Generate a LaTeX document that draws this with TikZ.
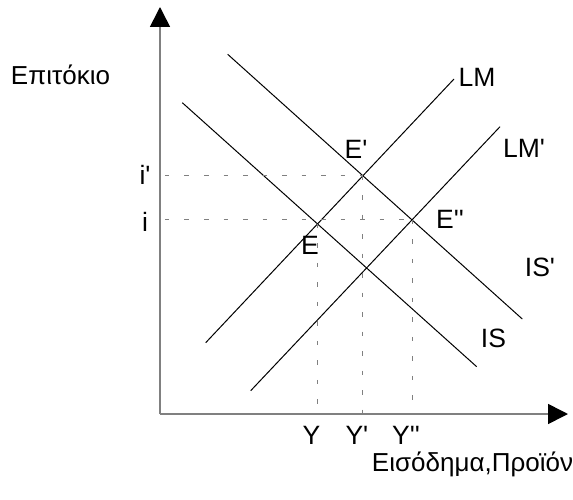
\documentclass[tikz,border=0pt]{standalone}
\usepackage{fontspec}
\setmainfont{Liberation Sans}
\usetikzlibrary{arrows.meta,calc,positioning}
\newcommand{\pr}{\textquotesingle}

\begin{document}
\begin{tikzpicture}[>={Triangle[length=20pt,width=20pt,black]}, x=1pt, y=1pt,
  every node/.style={font=\fontsize{26.5}{31}\selectfont, inner sep=0pt},
  axislabel/.style={font=\fontsize{26}{30}\selectfont},
  curve/.style={line width=1pt},
  guide/.style={draw=gray, line width=1pt, dash pattern=on 4.5pt off 15pt},
  axis/.style={draw=gray, line width=1.6pt}]
  \useasboundingbox (-160,-85) rectangle (413,414);
  % axes
  \coordinate (o) at (0,0);
  \coordinate (ytop) at (0,407);
  \coordinate (xend) at (408,0);
  \draw[axis,->] (o) -- (ytop);
  \draw[axis,->] (o) -- (xend);
  % LM, LM', IS, IS'
  \coordinate (lm1) at (45.7,71.3);
  \coordinate (lm2) at (294,335);
  \coordinate (lmp1) at (90.7,23.3);
  \coordinate (lmp2) at (340,287.3);
  \coordinate (is1) at (22.3,311.3);
  \coordinate (is2) at (316.7,47.3);
  \coordinate (isp1) at (67.7,359.7);
  \coordinate (isp2) at (362.3,95);
  \draw[curve] (lm1) -- (lm2);
  \draw[curve] (lmp1) -- (lmp2);
  \draw[curve] (is1) -- (is2);
  \draw[curve] (isp1) -- (isp2);
  \coordinate (E) at (intersection of lm1--lm2 and is1--is2);
  \coordinate (Ep) at (intersection of lm1--lm2 and isp1--isp2);
  \coordinate (Epp) at (intersection of lmp1--lmp2 and isp1--isp2);
  % guides
  \draw[guide] ($(o |- Ep)+(5,0)$) -- (Ep);
  \draw[guide] ($(o |- Epp)+(5,0)$) -- (Epp);
  \foreach \p/\lab in {E/Y, Ep/Y\pr, Epp/Y\pr\pr} {
    \draw[guide] (\p) -- (\p |- o);
    \node (y\p) at ($(\p |- o)+(-6,-21)$) {\lab};
  }
  % labels
  \node[axislabel] (rate) at (-99.5,339) {Επιτόκιο};
  \node[axislabel] (income) at (312.5,-50) {Εισόδημα,Προϊόν};
  \node (ip) at (-15,239) {i\pr};
  \node (i) at (-15,192) {i};
  \node (lLM) at (317,337) {LM};
  \node (lLMp) at (364,266) {LM\pr};
  \node (lIS) at (333.5,76) {IS};
  \node (lISp) at (380,147) {IS\pr};
  \node (lE) at (150,169) {E};
  \node (lEp) at (196,265) {E\pr};
  \node (lEpp) at (290,195) {E\pr\pr};
\end{tikzpicture}
\end{document}
